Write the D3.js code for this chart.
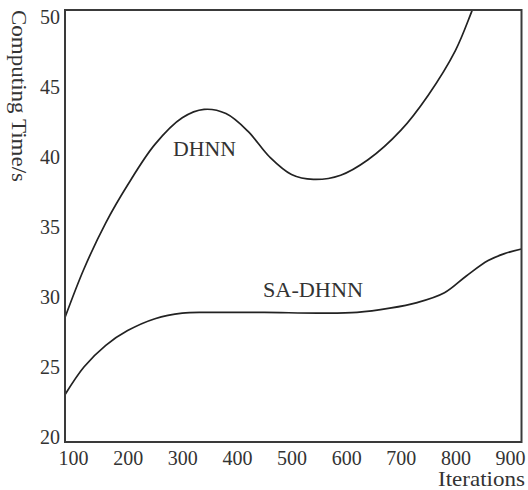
<!DOCTYPE html>
<html>
<head>
<meta charset="utf-8">
<script src="https://cdn.jsdelivr.net/npm/d3@7"></script>
<style>
  html, body { margin: 0; padding: 0; background: #fff; }
  svg { display: block; }
  text { font-family: "Liberation Serif", "DejaVu Serif", serif; fill: #333; }
</style>
</head>
<body>
<svg id="chart" width="528" height="490"></svg>
<script>
// ---- data ----
const xTicks = [100, 200, 300, 400, 500, 600, 700, 800, 900];
const yTicks = [20, 25, 30, 35, 40, 45, 50];

const dhnnIter = [85, 120, 160, 200, 250, 300, 340, 380, 420, 460, 500, 540, 590, 640, 700, 750, 800, 830, 860];
const dhnnTime = [28.5, 32.0, 35.3, 38.0, 40.9, 42.8, 43.4, 43.1, 41.85, 40.0, 38.75, 38.4, 38.7, 39.8, 41.9, 44.4, 47.6, 50.4, 53.5];

const saIter = [85, 120, 160, 200, 250, 300, 350, 450, 550, 620, 680, 730, 780, 820, 860, 890, 921];
const saTime = [23.0, 25.0, 26.55, 27.6, 28.45, 28.85, 28.9, 28.9, 28.85, 28.9, 29.2, 29.6, 30.3, 31.5, 32.6, 33.1, 33.43];

const seriesNames = ["DHNN", "SA-DHNN"];
const xTitle = "Iterations";
const yTitle = "Computing Time/s";

// ---- layout ----
const svg = d3.select("#chart");
const mLeft = 65, mRight = 521.5, mTop = 10, mBottom = 442;

const x = d3.scaleLinear().domain([85.35, 921.05]).range([mLeft, mRight]);
const y = d3.scaleLinear().domain([19.643, 50.5]).range([mBottom, mTop]);

svg.append("defs").append("clipPath").attr("id", "plotclip")
  .append("rect").attr("x", mLeft).attr("y", mTop)
  .attr("width", mRight - mLeft).attr("height", mBottom - mTop);

const line = d3.line()
  .x(d => x(d[0])).y(d => y(d[1]))
  .curve(d3.curveCatmullRom.alpha(0.5));

const g = svg.append("g").attr("clip-path", "url(#plotclip)");
g.append("path")
  .datum(dhnnIter.map((v, i) => [v, dhnnTime[i]]))
  .attr("d", line).attr("fill", "none").attr("stroke", "#222").attr("stroke-width", 1.7);
g.append("path")
  .datum(saIter.map((v, i) => [v, saTime[i]]))
  .attr("d", line).attr("fill", "none").attr("stroke", "#222").attr("stroke-width", 1.7);

// frame
svg.append("rect")
  .attr("x", mLeft).attr("y", mTop)
  .attr("width", mRight - mLeft).attr("height", mBottom - mTop)
  .attr("fill", "none").attr("stroke", "#3a3a3a").attr("stroke-width", 2);

// x axis labels
const xAxis = d3.axisBottom(x).tickValues(xTicks).tickSize(0).tickPadding(0).tickFormat(d3.format("d"));
const xg = svg.append("g").attr("transform", `translate(0,${mBottom})`).call(xAxis);
xg.select(".domain").remove();
xg.selectAll("text")
  .attr("y", 23).attr("dy", null)
  .style("font-family", '"Liberation Serif", serif')
  .style("font-size", "20px").attr("fill", "#333");

// y axis labels
const yAxis = d3.axisLeft(y).tickValues(yTicks).tickSize(0).tickPadding(0).tickFormat(d3.format("d"));
const yg = svg.append("g").attr("transform", `translate(${mLeft},0)`).call(yAxis);
yg.select(".domain").remove();
yg.selectAll("text")
  .attr("x", -5).attr("dy", "0.34em")
  .style("font-family", '"Liberation Serif", serif')
  .style("font-size", "20px").attr("fill", "#333");

// axis titles
svg.append("text")
  .attr("x", 525).attr("y", 486)
  .attr("text-anchor", "end")
  .attr("textLength", 87).attr("lengthAdjust", "spacingAndGlyphs")
  .style("font-size", "21px")
  .text(xTitle);

svg.append("text")
  .attr("transform", "translate(12,10) rotate(90)")
  .attr("text-anchor", "start")
  .attr("textLength", 172).attr("lengthAdjust", "spacingAndGlyphs")
  .style("font-size", "21px")
  .text(yTitle);

// series labels
svg.append("text")
  .attr("x", 173).attr("y", 156)
  .attr("textLength", 63).attr("lengthAdjust", "spacingAndGlyphs")
  .style("font-size", "21px")
  .text(seriesNames[0]);

svg.append("text")
  .attr("x", 263).attr("y", 297)
  .attr("textLength", 100).attr("lengthAdjust", "spacingAndGlyphs")
  .style("font-size", "21px")
  .text(seriesNames[1]);
</script>
</body>
</html>
